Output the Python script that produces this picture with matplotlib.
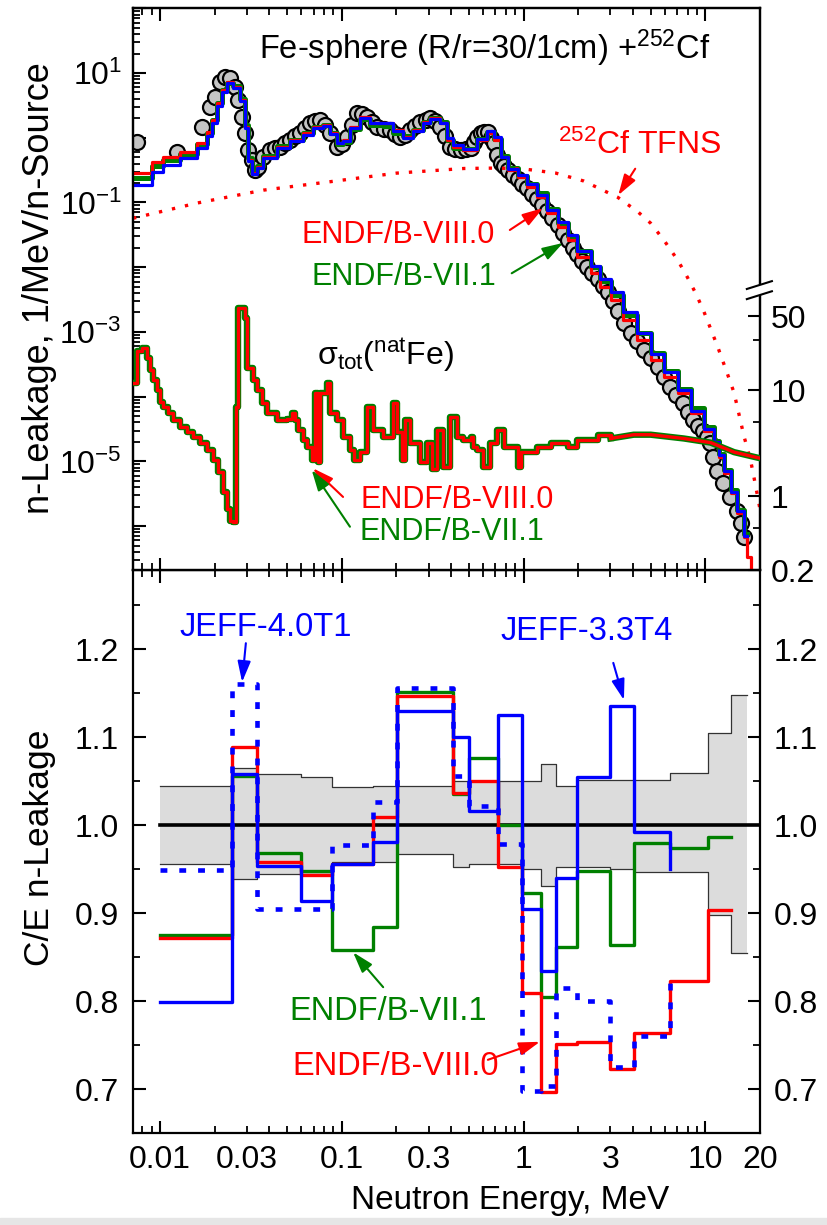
import numpy as np
import matplotlib
matplotlib.use('Agg')
import matplotlib.pyplot as plt
from matplotlib.ticker import (FixedLocator, LogLocator, FuncFormatter,
                               MultipleLocator, NullFormatter)
from matplotlib.patches import Polygon, Rectangle

plt.rcParams['font.family'] = ['Liberation Sans', 'DejaVu Sans']
plt.rcParams['mathtext.fontset'] = 'custom'
plt.rcParams['mathtext.rm'] = 'Liberation Sans'
plt.rcParams['mathtext.it'] = 'Liberation Sans:italic'
plt.rcParams['mathtext.bf'] = 'Liberation Sans:bold'

RED = '#ff0000'
GREEN = '#008000'
BLUE = '#0000ff'

# ---------------- leakage spectrum (MeV, 1/MeV/n-source) ----------------
E_exp = [0.0075, 0.0124, 0.0170, 0.0188, 0.0201, 0.0214, 0.0228, 0.0243, 0.0259,
         0.0269, 0.0283, 0.0294, 0.0305, 0.0321, 0.0334, 0.0347, 0.0369, 0.0404,
         0.0430, 0.0458, 0.0490, 0.0520, 0.0555, 0.0591, 0.0630, 0.0670, 0.0715,
         0.0762, 0.0810, 0.0865, 0.0944, 0.100, 0.107, 0.114, 0.122, 0.130, 0.138,
         0.147, 0.157, 0.170, 0.185, 0.197, 0.210, 0.223, 0.238, 0.254, 0.271,
         0.290, 0.307, 0.327, 0.349, 0.372, 0.396, 0.422, 0.450, 0.480, 0.511,
         0.535, 0.558, 0.580, 0.606, 0.634, 0.660, 0.684, 0.715, 0.747, 0.780,
         0.817, 0.870, 0.927, 0.985, 1.05, 1.12, 1.19, 1.26, 1.34, 1.44, 1.54,
         1.64, 1.75, 1.86, 1.98, 2.10, 2.23, 2.39, 2.56, 2.73, 2.91, 3.10, 3.30,
         3.56, 3.89, 4.22, 4.58, 5.01, 5.47, 5.93, 6.37, 6.90, 7.51, 8.00, 8.53,
         9.07, 9.68, 10.2, 10.6, 11.0, 11.6, 12.5, 13.6, 14.9, 15.7, 16.3]
phi_exp = [0.86, 0.60, 1.46, 2.98, 4.3, 7.3, 8.7, 8.4, 6.1,
           3.8, 2.1, 1.18, 0.65, 0.45, 0.32, 0.35, 0.50, 0.65,
           0.70, 0.72, 0.82, 0.92, 1.05, 1.18, 1.40, 1.69, 1.80,
           1.88, 1.60, 1.18, 0.72, 0.80, 1.03, 1.60, 2.4, 2.3, 2.1,
           1.75, 1.46, 1.38, 1.31, 1.15, 1.03, 1.12, 1.31, 1.50, 1.75,
           1.90, 2.0, 1.80, 1.46, 1.05, 0.72, 0.66, 0.65, 0.66, 0.70,
           0.85, 1.03, 1.18, 1.22, 1.22, 1.0, 0.83, 0.55, 0.41, 0.36,
           0.32, 0.27, 0.23, 0.19, 0.166, 0.135, 0.113, 0.090, 0.074, 0.057, 0.045,
           0.034, 0.0263, 0.020, 0.0158, 0.0125, 0.0099, 0.0080, 0.0065, 0.0052, 0.0042, 0.0030, 0.0021,
           1.37e-3, 9.6e-4, 7.3e-4, 5.3e-4, 3.9e-4, 2.9e-4, 2.0e-4, 1.4e-4, 1.05e-4, 8.0e-5, 5.8e-5, 4.3e-5,
           3.5e-5, 3.0e-5, 2.4e-5, 1.9e-5, 1.16e-5, 7.2e-6, 4.6e-6, 2.8e-6, 1.7e-6, 1.1e-6, 6.7e-7]

# calculated group spectra, bin edges in MeV
E_calc = [0.0071, 0.0090, 0.0104, 0.0129, 0.0160, 0.0181, 0.0194, 0.0206, 0.0219, 0.0234,
          0.0252, 0.0276, 0.0294, 0.0305, 0.0321, 0.0342, 0.0369, 0.0441, 0.0520, 0.0613,
          0.0697, 0.0792, 0.0865, 0.0944, 0.102, 0.111, 0.126, 0.143, 0.169, 0.192,
          0.218, 0.247, 0.281, 0.307, 0.348, 0.381, 0.411, 0.467, 0.558, 0.632,
          0.684, 0.747, 0.817, 0.927, 1.05, 1.19, 1.34, 1.54, 1.75, 1.98,
          2.34, 2.63, 3.01, 3.53, 4.22, 5.01, 5.93, 7.07, 8.37, 9.89,
          11.2, 11.9, 12.7, 13.9, 15.0, 16.4, 17.0, 17.9, 18.6]
phi_endf80 = [0.284, 0.42, 0.50, 0.60, 0.83, 1.22, 1.88, 3.44, 5.46, 7.26,
              6.08, 3.83, 1.46, 0.45, 0.284, 0.35, 0.50, 0.72, 0.92, 1.18,
              1.46, 1.57, 1.18, 0.83, 0.92, 1.46, 2.09, 1.69, 1.69, 1.31,
              1.03, 1.31, 1.75, 2.01, 1.69, 0.92, 0.72, 0.65, 0.92, 1.18,
              0.92, 0.50, 0.32, 0.247, 0.173, 0.121, 0.0686, 0.0417, 0.0262, 0.0143,
              0.0081, 0.0049, 0.0031, 1.52e-3, 7.5e-4, 3.7e-4, 2.0e-4, 1.13e-4, 5.6e-5, 3.0e-5,
              1.9e-5, 1.16e-5, 6.6e-6, 3.2e-6, 1.6e-6, 6.7e-7, 3.3e-7, 1.5e-7]
phi_endf71 = [0.24, 0.36, 0.45, 0.56, 0.80, 1.18, 1.85, 3.4, 5.4, 7.1,
              6.3, 4.0, 1.55, 0.48, 0.30, 0.37, 0.52, 0.74, 0.93, 1.20,
              1.48, 1.58, 1.20, 0.80, 0.85, 1.35, 1.95, 1.55, 1.50, 1.20,
              1.05, 1.32, 1.78, 2.05, 1.72, 0.92, 0.70, 0.68, 0.95, 1.22,
              0.95, 0.52, 0.34, 0.26, 0.19, 0.138, 0.080, 0.048, 0.030, 0.018,
              0.0102, 0.0062, 0.0037, 1.8e-3, 9.6e-4, 4.7e-4, 2.5e-4, 1.33e-4, 6.6e-5, 3.4e-5,
              2.1e-5, 1.3e-5, 7.3e-6, 3.6e-6, 1.8e-6, 7.5e-7]
phi_jeff33 = [0.186, 0.30, 0.38, 0.48, 0.70, 1.05, 1.70, 3.1, 5.0, 7.0,
              5.8, 3.7, 1.40, 0.44, 0.28, 0.34, 0.48, 0.70, 0.88, 1.12,
              1.40, 1.52, 1.15, 0.82, 0.90, 1.42, 2.05, 1.66, 1.66, 1.28,
              1.00, 1.26, 1.68, 1.95, 1.66, 0.98, 0.78, 0.66, 0.95, 1.25,
              1.02, 0.50, 0.33, 0.27, 0.19, 0.13, 0.077, 0.050, 0.031, 0.018,
              0.0105, 0.0066, 0.0042, 2.0e-3, 9.5e-4, 4.6e-4, 2.4e-4, 1.25e-4, 6.0e-5, 3.2e-5,
              2.0e-5, 1.25e-5, 7.0e-6, 3.4e-6, 1.7e-6, 7.0e-7]

# 252Cf spontaneous fission neutron spectrum
E_tfns = [0.0071, 0.016, 0.037, 0.087, 0.20, 0.47, 0.71, 1.0, 1.5, 2.14, 3.3, 4.25, 5.0,
          5.93, 7.07, 7.97, 8.88, 9.8, 11.7, 13.2, 14.4, 16.3, 17.8, 18.5, 19.7, 20.0]
phi_tfns = [0.057, 0.098, 0.155, 0.21, 0.284, 0.335, 0.34, 0.33, 0.285, 0.215, 0.12, 0.072, 0.048,
            0.026, 0.0127, 0.0070, 0.0039, 0.0021, 5.9e-4, 2.3e-4, 1.15e-4, 2.5e-5, 1.0e-5, 5.8e-6, 2.3e-6, 1.8e-6]

# total cross section of natFe (barn), resolved part as steps, smooth part above 3 MeV
E_xs = [0.0071, 0.00747, 0.00796, 0.00848, 0.00881, 0.00915, 0.00963, 0.0100, 0.0104, 0.0111,
        0.0118, 0.0129, 0.0141, 0.0152, 0.0166, 0.0181, 0.0196, 0.0209, 0.0223, 0.0234,
        0.0243, 0.0253, 0.0262, 0.0269, 0.0294, 0.0302, 0.0325, 0.0342, 0.0365, 0.0389,
        0.0441, 0.0501, 0.0534, 0.0554, 0.0576, 0.0613, 0.0646, 0.0688, 0.0714, 0.0743,
        0.0762, 0.0832, 0.0865, 0.0944, 0.102, 0.111, 0.116, 0.126, 0.138, 0.149,
        0.169, 0.192, 0.202, 0.215, 0.224, 0.238, 0.271, 0.295, 0.315, 0.336,
        0.362, 0.396, 0.433, 0.467, 0.511, 0.530, 0.558, 0.602, 0.658, 0.719,
        0.776, 0.927, 0.963, 1.19, 1.41, 1.75, 1.98, 2.56, 3.01]
sig_xs = [11.7, 23.6, 25.0, 20.3, 15.4, 12.4, 10.0, 7.7, 6.9, 6.1,
          5.2, 4.5, 4.0, 3.6, 3.2, 2.75, 2.2, 1.68, 1.09, 0.76,
          0.58, 0.57, 6.9, 60.0, 48.0, 16.4, 12.4, 10.0, 7.6, 6.1,
          5.2, 5.4, 6.1, 5.2, 4.2, 3.4, 2.9, 2.2, 9.4, 2.1,
          9.4, 11.7, 6.1, 5.2, 3.6, 2.75, 2.2, 2.6, 6.9, 4.2,
          3.6, 7.6, 4.0, 2.2, 5.2, 3.2, 2.1, 3.2, 1.8, 4.2,
          1.9, 5.6, 3.6, 3.4, 3.6, 2.9, 2.75, 1.9, 3.2, 4.2,
          2.9, 1.9, 2.6, 2.9, 3.2, 2.9, 3.4, 3.8, 3.5]
E_xs_hi = [3.01, 4.04, 5.01, 7.62, 10.7, 14.4, 19.5, 20.0]
sig_xs_hi = [3.5, 3.8, 3.8, 3.5, 3.2, 2.6, 2.3, 2.28]

# ---------------- C/E ratios in broad groups ----------------
ce_edges = [0.01, 0.0249, 0.0342, 0.0598, 0.0886, 0.149, 0.202, 0.411, 0.50, 0.72,
            0.98, 1.24, 1.50, 1.98, 3.0, 4.04, 6.43, 10.4, 13.8, 16.9]
unc_hi = [1.045, 1.065, 1.058, 1.055, 1.043, 1.044, 1.044, 1.05, 1.05, 1.05,
          1.05, 1.07, 1.045, 1.051, 1.051, 1.051, 1.059, 1.105, 1.148]
unc_lo = [0.956, 0.939, 0.944, 0.944, 0.958, 0.958, 0.967, 0.952, 0.956, 0.956,
          0.95, 0.931, 0.952, 0.952, 0.950, 0.947, 0.947, 0.898, 0.855]
ce_endf80 = [0.872, 1.089, 0.958, 0.943, 0.956, 1.009, 1.147, 1.037, 1.05, 0.952,
             0.809, 0.697, 0.751, 0.753, 0.723, 0.764, 0.823, 0.903]
ce_endf71 = [0.875, 1.056, 0.968, 0.948, 0.858, 0.884, 1.151, 1.035, 1.076, 1.0,
             0.923, 0.805, 0.861, 0.948, 0.864, 0.98, 0.974, 0.986]
ce_jeff33 = [0.799, 1.058, 0.953, 0.914, 0.956, 0.981, 1.13, 1.10, 1.016, 1.125,
             0.905, 0.834, 0.94, 1.055, 1.135, 0.992]
ce_jeff33_end = 0.95
ce_jeff40 = [0.949, 1.160, 0.905, 0.905, 0.977, 1.026, 1.156, 1.056, 1.022, 0.978,
             0.698, 0.703, 0.815, 0.80, 0.725, 0.76]
ce_jeff40_end = 0.823


def hist(ax, edges, vals, last=None, **kw):
    """Draw a histogram as a step line over edges[:len(vals)+1]."""
    y = list(vals) + [vals[-1] if last is None else last]
    ax.step(edges[:len(vals) + 1], y, where='post', **kw)


W, H = 827.0, 1225.0
fig = plt.figure(figsize=(W / 100, H / 100), dpi=100)
ax1 = fig.add_axes([133 / W, 1 - 570 / H, 627 / W, 562 / H])
ax3 = fig.add_axes([133 / W, 1 - 1133 / H, 627 / W, 563 / H])
fig.patches.append(Rectangle((0, 0), 1, 7 / H, transform=fig.transFigure,
                             color='#e6e6e6', zorder=0))

TICK = 23
for ax in (ax1, ax3):
    ax.set_xscale('log')
    ax.set_xlim(0.0071, 20)
    ax.xaxis.set_major_locator(FixedLocator([0.01, 0.1, 1, 10]))
    ax.xaxis.set_minor_locator(LogLocator(base=10, subs=np.arange(2, 10), numticks=30))
    for s in ax.spines.values():
        s.set_linewidth(1.6)
    ax.tick_params(which='major', direction='in', length=9, width=1.5, labelsize=TICK)
    ax.tick_params(which='minor', direction='in', length=5, width=1.3, labelsize=TICK)

# ---------------- top panel ----------------
ax1.set_yscale('log')
ax1.set_ylim(2.1e-7, 101)
ax1.plot(E_exp, phi_exp, 'o', ms=10.8, mfc='#c4c4c4', mec='k', mew=1.6, zorder=2)
hist(ax1, E_calc, phi_endf71, color=GREEN, lw=3.6, zorder=3)
hist(ax1, E_calc, phi_endf80, color=RED, lw=2.3, zorder=4)
hist(ax1, E_calc, phi_jeff33, color=BLUE, lw=2.3, zorder=5)
ax1.plot(E_tfns, phi_tfns, color=RED, lw=2.4, ls=(0, (1, 3)), zorder=4)

ax1.yaxis.set_major_locator(LogLocator(base=10, numticks=20))
ax1.yaxis.set_minor_locator(LogLocator(base=10, subs=np.arange(2, 10), numticks=20))


def dec_label(v, pos):
    e = int(round(np.log10(v)))
    return r'$10^{%d}$' % e if e % 2 else ''


ax1.yaxis.set_major_formatter(FuncFormatter(dec_label))
ax1.yaxis.set_minor_formatter(NullFormatter())
ax1.xaxis.set_major_formatter(NullFormatter())
ax1.xaxis.set_minor_formatter(NullFormatter())
ax1.tick_params(which='both', top=True, right=False, labelbottom=False)
ax1.tick_params(axis='y', which='major', pad=8)
ax1.set_zorder(1)

# cross section on its own right-hand scale
ax2 = ax1.twinx()
ax2.set_yscale('log')
ax2.set_ylim(0.2, 4.1e4)
hist(ax2, E_xs, sig_xs[:-1], last=sig_xs[-1], color=GREEN, lw=4.6, zorder=3)
ax2.plot(E_xs_hi, sig_xs_hi, color=GREEN, lw=4.6, zorder=3)
hist(ax2, E_xs, sig_xs[:-1], last=sig_xs[-1], color=RED, lw=2.4, zorder=4)
ax2.plot(E_xs_hi, sig_xs_hi, color=RED, lw=2.4, zorder=4)
ax2.yaxis.set_major_locator(FixedLocator([0.2, 1, 10, 50]))
ax2.yaxis.set_minor_locator(FixedLocator([0.5, 5, 30]))
ax2.yaxis.set_major_formatter(FuncFormatter(lambda v, p: '%g' % v))
ax2.yaxis.set_minor_formatter(NullFormatter())
ax2.tick_params(which='major', direction='in', length=9, width=1.5, labelsize=TICK, pad=8)
ax2.tick_params(which='minor', direction='in', length=5, width=1.3)
for s in ax2.spines.values():
    s.set_linewidth(1.6)

# axis break on the right spine
tr = ax2.transAxes
ax2.add_patch(Polygon([[0.979, 0.500], [1.019, 0.514], [1.019, 0.496], [0.979, 0.482]],
                      closed=True, transform=tr, facecolor='white', edgecolor='none',
                      clip_on=False, zorder=20))
ax2.plot([0.979, 1.019], [0.500, 0.514], transform=tr, color='k', lw=1.5, clip_on=False, zorder=21)
ax2.plot([0.979, 1.019], [0.482, 0.496], transform=tr, color='k', lw=1.5, clip_on=False, zorder=21)

AF = 'axes fraction'


def arrow(ax, tail, tip, color):
    ax.annotate('', xy=tip, xytext=tail, xycoords=AF, textcoords=AF,
                arrowprops=dict(arrowstyle='-|>,head_length=0.7,head_width=0.22',
                                color=color, lw=1.5, mutation_scale=18,
                                shrinkA=0, shrinkB=0), zorder=30)


ax2.text(0.561, 0.929, r'Fe-sphere (R/r=30/1cm) +$^{252}$Cf', transform=tr,
         ha='center', va='center', fontsize=23.5)
ax2.text(0.809, 0.756, r'$^{252}$Cf TFNS', transform=tr, ha='center', va='center',
         fontsize=23, color=RED)
arrow(ax2, (0.801, 0.714), (0.774, 0.667), RED)
ax2.text(0.423, 0.596, 'ENDF/B-VIII.0', transform=tr, ha='center', va='center',
         fontsize=22, color=RED)
arrow(ax2, (0.601, 0.605), (0.654, 0.644), RED)
ax2.text(0.432, 0.521, 'ENDF/B-VII.1', transform=tr, ha='center', va='center',
         fontsize=22, color=GREEN)
arrow(ax2, (0.604, 0.528), (0.686, 0.582), GREEN)
ax2.text(0.402, 0.383, r'σ$_{\mathrm{tot}}$($^{\mathrm{nat}}$Fe)', transform=tr,
         ha='center', va='center', fontsize=23)
ax2.text(0.517, 0.125, 'ENDF/B-VIII.0', transform=tr, ha='center', va='center',
         fontsize=22, color=RED)
arrow(ax2, (0.335, 0.130), (0.287, 0.181), RED)
ax2.text(0.509, 0.068, 'ENDF/B-VII.1', transform=tr, ha='center', va='center',
         fontsize=22, color=GREEN)
arrow(ax2, (0.346, 0.077), (0.285, 0.178), GREEN)

# ---------------- bottom panel: C/E ----------------
ax3.set_ylim(0.65, 1.29)
ax3.fill_between(ce_edges, unc_lo + [unc_lo[-1]], unc_hi + [unc_hi[-1]], step='post',
                 facecolor='#dcdcdc', edgecolor='none', zorder=1)
hist(ax3, ce_edges, unc_hi, color='#333333', lw=0.9, zorder=1.5)
hist(ax3, ce_edges, unc_lo, color='#333333', lw=0.9, zorder=1.5)
ax3.plot([0.01, 20], [1.0, 1.0], color='k', lw=2.6, zorder=2)
hist(ax3, ce_edges, ce_endf71, color=GREEN, lw=2.4, zorder=3)
hist(ax3, ce_edges, ce_endf80, color=RED, lw=2.4, zorder=4)
hist(ax3, ce_edges, ce_jeff33, last=ce_jeff33_end, color=BLUE, lw=2.4, zorder=5)
hist(ax3, ce_edges, ce_jeff40, last=ce_jeff40_end, color=BLUE, lw=3.3,
     ls=(0, (1.5, 2.6)), zorder=6)

ax3.yaxis.set_major_locator(MultipleLocator(0.1))
ax3.yaxis.set_minor_locator(MultipleLocator(0.05))
ax3.yaxis.set_major_formatter(FuncFormatter(lambda v, p: '%.1f' % v))
ax3.xaxis.set_major_formatter(FuncFormatter(lambda v, p: '%g' % v))


def minor_x_label(v, pos):
    for t in (0.03, 0.3, 3, 20):
        if np.isclose(v, t):
            return '%g' % t
    return ''


ax3.xaxis.set_minor_formatter(FuncFormatter(minor_x_label))
ax3.tick_params(which='both', top=True, right=True, labelright=True)
ax3.tick_params(axis='x', which='both', pad=9)
ax3.tick_params(axis='y', which='both', pad=10)

tr3 = ax3.transAxes
ax3.text(0.212, 0.897, 'JEFF-4.0T1', transform=tr3, ha='center', va='center',
         fontsize=23.5, color=BLUE)
arrow(ax3, (0.180, 0.870), (0.174, 0.801), BLUE)
ax3.text(0.724, 0.890, 'JEFF-3.3T4', transform=tr3, ha='center', va='center',
         fontsize=23.5, color=BLUE)
arrow(ax3, (0.766, 0.835), (0.783, 0.769), BLUE)
ax3.text(0.407, 0.215, 'ENDF/B-VII.1', transform=tr3, ha='center', va='center',
         fontsize=23.5, color=GREEN)
arrow(ax3, (0.399, 0.259), (0.351, 0.321), GREEN)
ax3.text(0.419, 0.119, 'ENDF/B-VIII.0', transform=tr3, ha='center', va='center',
         fontsize=23.5, color=RED)
arrow(ax3, (0.566, 0.130), (0.649, 0.162), RED)

# axis titles
fig.text(40 / W, 1 - 288 / H, 'n-Leakage, 1/MeV/n-Source', rotation=90,
         ha='center', va='center', fontsize=26)
fig.text(40 / W, 1 - 848 / H, 'C/E n-Leakage', rotation=90,
         ha='center', va='center', fontsize=25.5)
fig.text(510 / W, 1 - 1201 / H, 'Neutron Energy, MeV', ha='center', va='center',
         fontsize=24)

fig.savefig('out.png', dpi=100)
